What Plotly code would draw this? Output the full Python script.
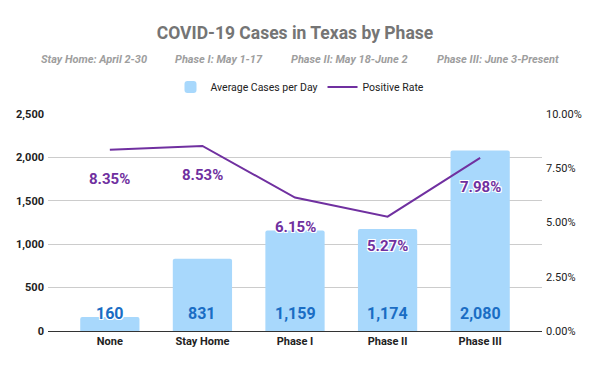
import plotly.graph_objects as go

categories = ["None", "Stay Home", "Phase I", "Phase II", "Phase III"]
avg_cases = [160, 831, 1159, 1174, 2080]
pos_rate = [0.0835, 0.0853, 0.0615, 0.0527, 0.0798]
left_ticks = [0, 500, 1000, 1500, 2000, 2500]
right_ticks = [0, 0.025, 0.05, 0.075, 0.10]
phase_notes = ["Stay Home: April 2-30", "Phase I: May 1-17",
               "Phase II: May 18-June 2", "Phase III: June 3-Present"]

FONT = "Roboto, Liberation Sans, sans-serif"
BAR_COLOR = "#a8d8fc"
LINE_COLOR = "#7030a0"
W, H = 600, 371
L, R, T, B = 48, 58, 114, 40
PW = W - L - R
HALO = "1px 1px 0 #fff, -1px -1px 0 #fff, 1px -1px 0 #fff, -1px 1px 0 #fff"

fig = go.Figure()
fig.add_trace(go.Bar(
    x=categories, y=avg_cases, name="Average Cases per Day",
    marker=dict(color=BAR_COLOR, line=dict(width=0), cornerradius=2),
    width=0.64, hoverinfo="skip",
))
fig.add_trace(go.Scatter(
    x=categories, y=pos_rate, name="Positive Rate", yaxis="y2",
    mode="lines", line=dict(color=LINE_COLOR, width=2),
))

# bar value labels
for c, v in zip(categories, avg_cases):
    fig.add_annotation(x=c, y=0, yref="y", text=f"<b>{v:,}</b>", showarrow=False,
                       yshift=18, yanchor="middle",
                       font=dict(family=FONT, size=16, color="#1a6dc4",
                                 shadow=HALO if v < 300 else "none"))
# rate labels
for c, r in zip(categories, pos_rate):
    fig.add_annotation(x=c, y=r, yref="y2", text=f"<b>{r*100:.2f}%</b>", showarrow=False,
                       yshift=-29, yanchor="middle",
                       font=dict(family=FONT, size=15, color=LINE_COLOR, shadow=HALO))

# subtitle pieces
note_centers = [94, 219, 349.5, 498]
for t, cx in zip(phase_notes, note_centers):
    fig.add_annotation(text=f"<b><i>{t}</i></b>", xref="paper", yref="paper",
                       x=(cx - L) / PW, y=1, yshift=T - 59,
                       xanchor="center", yanchor="middle", showarrow=False,
                       font=dict(family=FONT, size=11, color="#9e9e9e"))

fig.update_layout(
    width=W, height=H,
    margin=dict(l=L, r=R, t=T, b=B),
    paper_bgcolor="white", plot_bgcolor="white",
    font=dict(family=FONT, size=11, color="#222"),
    title=dict(text="<b>COVID-19 Cases in Texas by Phase</b>", x=0.5, xanchor="center",
               xref="paper", y=1 - 33 / H, yanchor="middle",
               font=dict(family=FONT, size=17.5, color="#757575")),
    showlegend=True,
    legend=dict(orientation="h", x=(300 - L) / PW, xanchor="center",
                y=1 - 87 / H, yref="container", yanchor="middle",
                font=dict(family=FONT, size=10.5, color="#222"),
                itemwidth=30, traceorder="normal"),
    xaxis=dict(range=[-0.668, 4.668], showgrid=False, showline=True,
               linecolor="#333", linewidth=1, ticks="",
               tickfont=dict(family=FONT, size=11, color="#222", weight="bold")),
    yaxis=dict(range=[0, 2500], tickvals=left_ticks, tickformat=",",
               showgrid=True, gridcolor="#cccccc", zeroline=False, automargin=False,
               ticklabelstandoff=3,
               tickfont=dict(family=FONT, size=11, color="#222", weight="bold")),
    yaxis2=dict(range=[0, 0.10], tickvals=right_ticks, tickformat=".2%",
                overlaying="y", side="right", showgrid=False, zeroline=False,
                automargin=False, ticklabelstandoff=3,
                tickfont=dict(family=FONT, size=11, color="#222")),
)
fig.write_html("out.html", config={"displayModeBar": False},
               post_script="document.body.style.margin='0';")
